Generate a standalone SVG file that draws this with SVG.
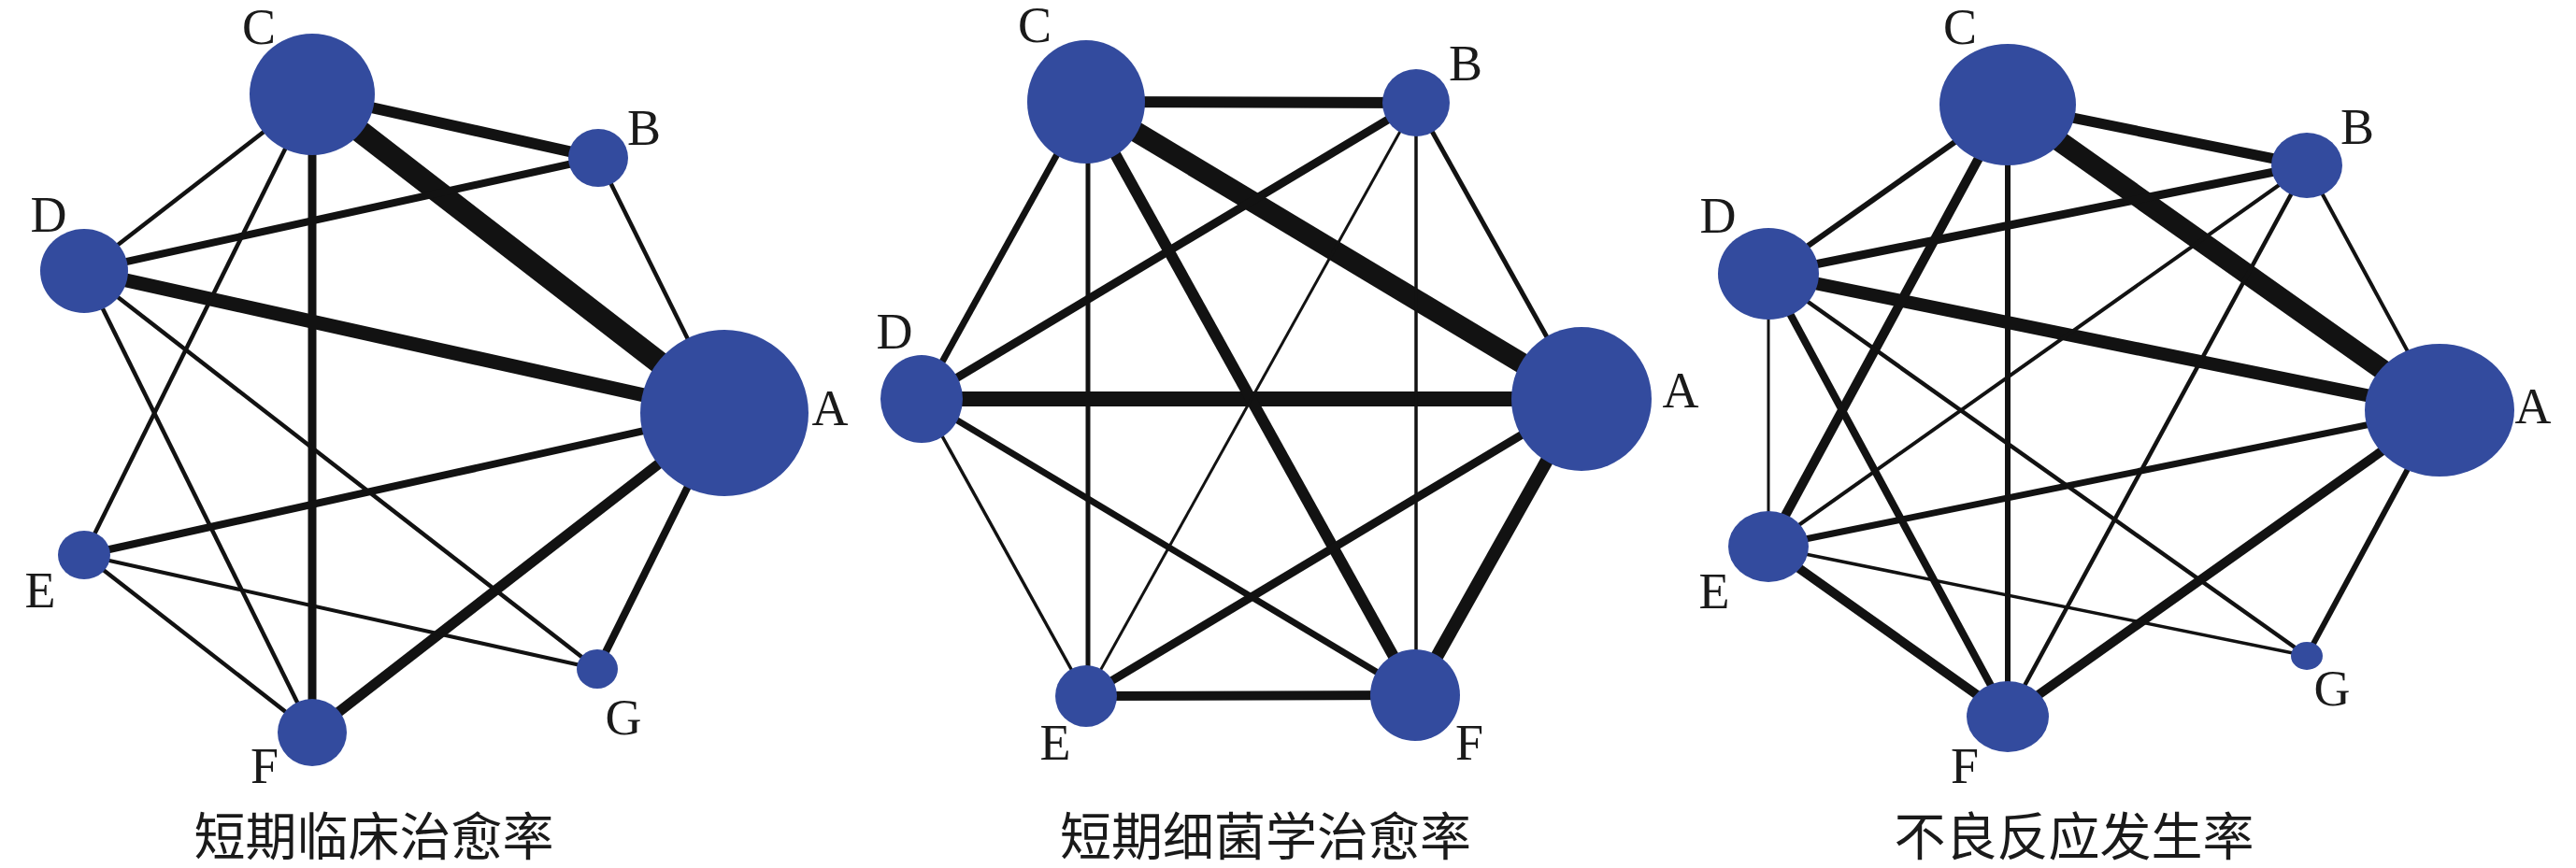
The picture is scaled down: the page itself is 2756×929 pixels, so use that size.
<svg xmlns="http://www.w3.org/2000/svg" width="2756" height="929" viewBox="0 0 2756 929">
<style>
.e{stroke:#121212;stroke-linecap:butt;fill:none}
.n{fill:#334b9e}
.l{font-family:"Liberation Serif","Times New Roman",serif;font-size:54px;fill:#1a1a1a;text-anchor:middle}
.t{font-family:"Noto Sans CJK SC","Noto Sans CJK JP",sans-serif;font-size:55px;fill:#1a1a1a;text-anchor:middle}
</style>
<rect width="2756" height="929" fill="#ffffff"/>

<!-- Panel 1 -->
<g id="p1-connectors">
<line class="e" x1="334" y1="101" x2="775" y2="442" stroke-width="24"/>
<line class="e" x1="90" y1="290" x2="775" y2="442" stroke-width="15"/>
<line class="e" x1="334" y1="101" x2="640" y2="169" stroke-width="12"/>
<line class="e" x1="775" y1="442" x2="334" y2="784" stroke-width="11"/>
<line class="e" x1="334" y1="101" x2="334" y2="784" stroke-width="9"/>
<line class="e" x1="90" y1="290" x2="640" y2="169" stroke-width="8"/>
<line class="e" x1="775" y1="442" x2="90" y2="594" stroke-width="8"/>
<line class="e" x1="775" y1="442" x2="639" y2="716" stroke-width="8"/>
<line class="e" x1="640" y1="169" x2="775" y2="442" stroke-width="4.5"/>
<line class="e" x1="334" y1="101" x2="90" y2="290" stroke-width="4.5"/>
<line class="e" x1="334" y1="101" x2="90" y2="594" stroke-width="4.5"/>
<line class="e" x1="90" y1="290" x2="334" y2="784" stroke-width="4.5"/>
<line class="e" x1="90" y1="290" x2="639" y2="716" stroke-width="4.5"/>
<line class="e" x1="90" y1="594" x2="334" y2="784" stroke-width="4.5"/>
<line class="e" x1="90" y1="594" x2="639" y2="716" stroke-width="4"/>
</g>
<g id="p1-A"><ellipse class="n" cx="775" cy="442" rx="90" ry="89"/><text class="l" x="888" y="455">A</text></g>
<g id="p1-B"><ellipse class="n" cx="640" cy="169" rx="32" ry="31"/><text class="l" x="689" y="155">B</text></g>
<g id="p1-C"><ellipse class="n" cx="334" cy="101" rx="67" ry="65"/><text class="l" x="277" y="47">C</text></g>
<g id="p1-D"><ellipse class="n" cx="90" cy="290" rx="47" ry="45"/><text class="l" x="52" y="248">D</text></g>
<g id="p1-E"><ellipse class="n" cx="90" cy="594" rx="28" ry="26"/><text class="l" x="43" y="650">E</text></g>
<g id="p1-F"><ellipse class="n" cx="334" cy="784" rx="37" ry="36"/><text class="l" x="283" y="838">F</text></g>
<g id="p1-G"><ellipse class="n" cx="639" cy="716" rx="22" ry="21"/><text class="l" x="667" y="786">G</text></g>

<!-- Panel 2 -->
<g id="p2-connectors">
<line class="e" x1="1162" y1="109" x2="1692" y2="427" stroke-width="22"/>
<line class="e" x1="986" y1="427" x2="1692" y2="427" stroke-width="16"/>
<line class="e" x1="1514" y1="744" x2="1692" y2="427" stroke-width="14"/>
<line class="e" x1="1162" y1="109" x2="1515" y2="110" stroke-width="12"/>
<line class="e" x1="1162" y1="109" x2="1514" y2="744" stroke-width="12"/>
<line class="e" x1="1162" y1="745" x2="1514" y2="744" stroke-width="10"/>
<line class="e" x1="1515" y1="110" x2="986" y2="427" stroke-width="9"/>
<line class="e" x1="1162" y1="745" x2="1692" y2="427" stroke-width="9"/>
<line class="e" x1="1162" y1="109" x2="986" y2="427" stroke-width="7"/>
<line class="e" x1="986" y1="427" x2="1514" y2="744" stroke-width="7"/>
<line class="e" x1="1164" y1="109" x2="1164" y2="745" stroke-width="5"/>
<line class="e" x1="1515" y1="110" x2="1692" y2="427" stroke-width="5"/>
<line class="e" x1="1515" y1="110" x2="1515" y2="744" stroke-width="3.5"/>
<line class="e" x1="986" y1="427" x2="1162" y2="745" stroke-width="3.5"/>
<line class="e" x1="1515" y1="110" x2="1162" y2="745" stroke-width="3"/>
</g>
<g id="p2-A"><ellipse class="n" cx="1692" cy="427" rx="75" ry="77"/><text class="l" x="1798" y="436">A</text></g>
<g id="p2-B"><ellipse class="n" cx="1515" cy="110" rx="36" ry="36"/><text class="l" x="1568" y="86">B</text></g>
<g id="p2-C"><ellipse class="n" cx="1162" cy="109" rx="63" ry="66"/><text class="l" x="1107" y="45">C</text></g>
<g id="p2-D"><ellipse class="n" cx="986" cy="427" rx="44" ry="47"/><text class="l" x="957" y="373">D</text></g>
<g id="p2-E"><ellipse class="n" cx="1162" cy="745" rx="33" ry="33"/><text class="l" x="1129" y="813">E</text></g>
<g id="p2-F"><ellipse class="n" cx="1514" cy="744" rx="48" ry="49"/><text class="l" x="1572" y="813">F</text></g>

<!-- Panel 3 -->
<g id="p3-connectors">
<line class="e" x1="2148" y1="112" x2="2610" y2="439" stroke-width="22"/>
<line class="e" x1="1892" y1="293" x2="2610" y2="439" stroke-width="14"/>
<line class="e" x1="2148" y1="112" x2="2468" y2="177" stroke-width="11"/>
<line class="e" x1="2148" y1="112" x2="1892" y2="585" stroke-width="10"/>
<line class="e" x1="1892" y1="585" x2="2148" y2="767" stroke-width="10"/>
<line class="e" x1="2610" y1="439" x2="2148" y2="767" stroke-width="10"/>
<line class="e" x1="1892" y1="293" x2="2468" y2="177" stroke-width="9"/>
<line class="e" x1="1892" y1="293" x2="2148" y2="767" stroke-width="8"/>
<line class="e" x1="1892" y1="585" x2="2610" y2="439" stroke-width="7"/>
<line class="e" x1="2148" y1="112" x2="2148" y2="767" stroke-width="6"/>
<line class="e" x1="2148" y1="112" x2="1892" y2="293" stroke-width="6"/>
<line class="e" x1="2610" y1="439" x2="2468" y2="702" stroke-width="6"/>
<line class="e" x1="2468" y1="177" x2="2148" y2="767" stroke-width="4.5"/>
<line class="e" x1="1892" y1="293" x2="2468" y2="702" stroke-width="4.5"/>
<line class="e" x1="2468" y1="177" x2="1892" y2="585" stroke-width="4"/>
<line class="e" x1="2468" y1="177" x2="2610" y2="439" stroke-width="4"/>
<line class="e" x1="1892" y1="585" x2="2468" y2="702" stroke-width="3.5"/>
<line class="e" x1="1892" y1="293" x2="1892" y2="585" stroke-width="3"/>
</g>
<g id="p3-A"><ellipse class="n" cx="2610" cy="439" rx="80" ry="71"/><text class="l" x="2710" y="453">A</text></g>
<g id="p3-B"><ellipse class="n" cx="2468" cy="177" rx="38" ry="35"/><text class="l" x="2522" y="154">B</text></g>
<g id="p3-C"><ellipse class="n" cx="2148" cy="112" rx="73" ry="65"/><text class="l" x="2097" y="47">C</text></g>
<g id="p3-D"><ellipse class="n" cx="1892" cy="293" rx="54" ry="49"/><text class="l" x="1838" y="249">D</text></g>
<g id="p3-E"><ellipse class="n" cx="1892" cy="585" rx="43" ry="38"/><text class="l" x="1834" y="651">E</text></g>
<g id="p3-F"><ellipse class="n" cx="2148" cy="767" rx="44" ry="38"/><text class="l" x="2102" y="838">F</text></g>
<g id="p3-G"><ellipse class="n" cx="2468" cy="702" rx="17" ry="15"/><text class="l" x="2495" y="755">G</text></g>

<g id="titles">
<text class="t" x="400" y="915">短期临床治愈率</text>
<text class="t" x="1354" y="915">短期细菌学治愈率</text>
<text class="t" x="2219" y="915">不良反应发生率</text>
</g>
</svg>
